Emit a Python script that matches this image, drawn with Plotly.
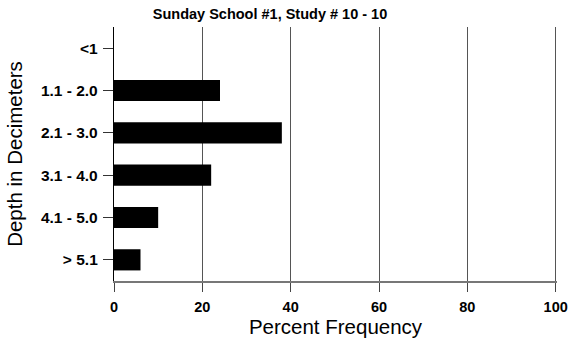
import plotly.graph_objects as go

categories = ["<1", "1.1 - 2.0", "2.1 - 3.0", "3.1 - 4.0", "4.1 - 5.0", "> 5.1"]
values = [0, 24, 38, 22, 10, 6]
x_ticks = [0, 20, 40, 60, 80, 100]

W, H = 572, 345
X_MAX = 100.3  # tiny overshoot so plotly keeps the gridline at 100

fig = go.Figure(go.Bar(
    y=categories, x=values, orientation="h",
    marker=dict(color="black", line=dict(width=0)), width=0.5,
))

fig.update_layout(
    width=W, height=H,
    margin=dict(l=114, r=15, t=27, b=64, autoexpand=False),
    paper_bgcolor="white", plot_bgcolor="white",
    font=dict(family="Arial, Liberation Sans", color="black"),
    title=dict(text="<b>Sunday School #1, Study # 10 - 10</b>", x=270/W, xanchor="center",
               xref="container", y=1 - 14/H, yanchor="middle", font=dict(size=14.5)),
    showlegend=False,
)
fig.update_xaxes(
    range=[0, X_MAX], tickvals=x_ticks, ticktext=[f"<b>{v}</b>" for v in x_ticks],
    showgrid=True, gridcolor="#555", gridwidth=1.3, automargin=False,
    showline=True, linecolor="#777", linewidth=2, zeroline=False, mirror=False,
    ticks="outside", ticklen=9, tickwidth=1.3, tickcolor="#444",
    ticklabelstandoff=3, tickfont=dict(size=14.5),
    title=dict(text="Percent Frequency", font=dict(size=20.5), standoff=4),
)
fig.update_yaxes(
    categoryorder="array", categoryarray=categories, autorange=False, range=[5.5, -0.5],
    ticktext=[f"<b>{c}</b>" for c in categories], tickvals=categories,
    showgrid=False, showline=True, linecolor="black", linewidth=1.3, automargin=False,
    ticks="outside", ticklen=10, tickcolor="#333", ticklabelstandoff=2, tickfont=dict(size=15.5),
    title=dict(text="Depth in Decimeters", font=dict(size=20.5), standoff=12),
)
fig.write_html(
    "out.html",
    config={"displayModeBar": False},
    post_script="document.body.style.margin='0';document.body.style.overflow='hidden';",
)
